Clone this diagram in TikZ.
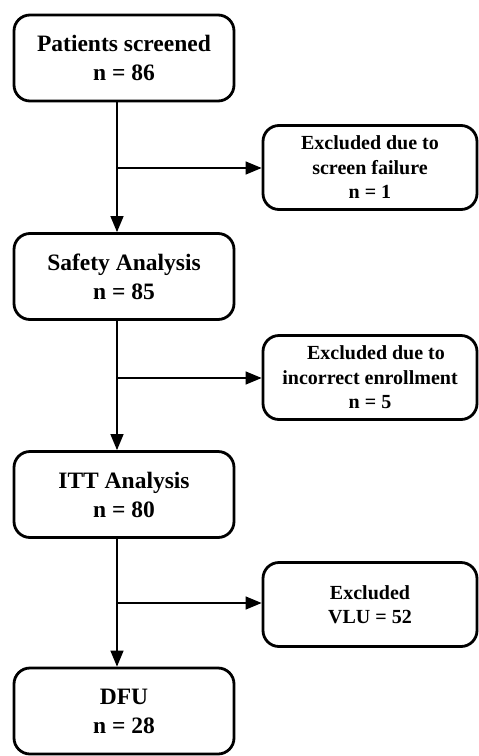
\documentclass[tikz,border=0pt]{standalone}
\usepackage{fontspec}
\setmainfont{Liberation Serif}
\usetikzlibrary{arrows.meta}
\tikzset{
  mainbox/.style={draw, line width=2.8pt, rounded corners=16pt, minimum width=220pt, minimum height=86pt, align=center, inner sep=0pt,
    font=\fontsize{23.5}{29}\selectfont\bfseries},
  sidebox/.style={draw, line width=2.8pt, rounded corners=16pt, minimum width=214pt, minimum height=84pt, align=center, inner sep=0pt,
    font=\fontsize{20}{24.5}\selectfont\bfseries},
  arr/.style={line width=1.3pt, -{Triangle[length=16pt,width=13pt]}},
  ln/.style={line width=1.3pt}
}
\begin{document}
\begin{tikzpicture}[x=1pt,y=-1pt]
\useasboundingbox (0,0) rectangle (479,756);
\fill[white] (0,0) rectangle (479,756);
\node[mainbox] (b1) at (124,58) {Patients screened\\n = 86};
\node[mainbox] (b2) at (124,276.5) {Safety Analysis\\n = 85};
\node[mainbox] (b3) at (124,494.5) {ITT Analysis\\n = 80};
\node[mainbox] (b4) at (124,711) {DFU\\n = 28};
\node[sidebox] (s1) at (370,167.5) {Excluded due to\\screen failure\\n = 1};
\node[sidebox] (s2) at (370,377.5) {\hspace{12pt}Excluded due to\\incorrect enrollment\\n = 5};
\node[sidebox] (s3) at (370,604.5) {Excluded\\VLU = 52};
\coordinate (spine) at (117,0);
\coordinate (j1) at (117,168);
\coordinate (j2) at (117,378);
\coordinate (j3) at (117,603);
\draw[arr] (b1.south -| spine) -- (b2.north -| spine);
\draw[arr] (b2.south -| spine) -- (b3.north -| spine);
\draw[arr] (b3.south -| spine) -- (b4.north -| spine);
\draw[arr] (j1) -- (j1 -| s1.west);
\draw[arr] (j2) -- (j2 -| s2.west);
\draw[arr] (j3) -- (j3 -| s3.west);
\end{tikzpicture}
\end{document}
